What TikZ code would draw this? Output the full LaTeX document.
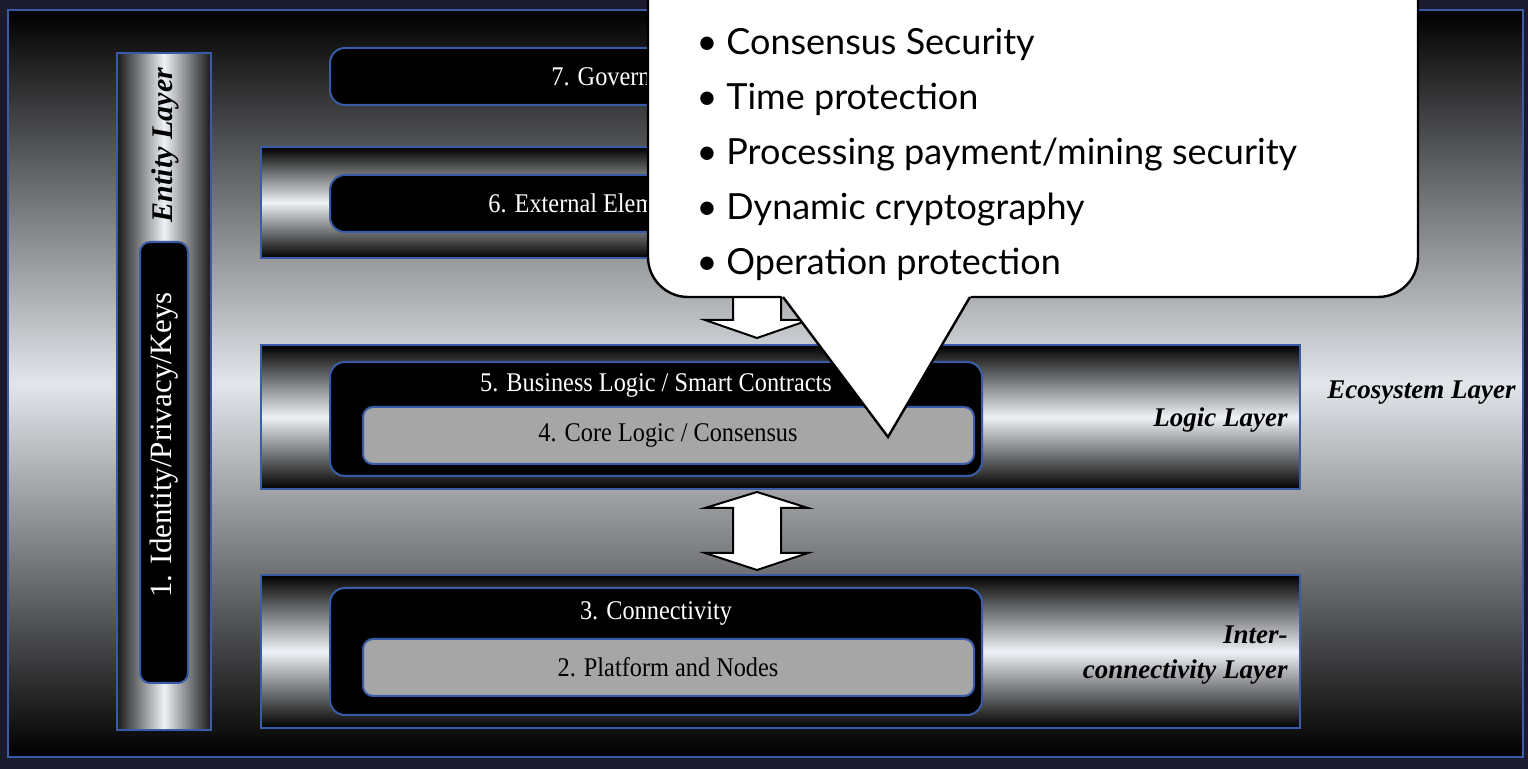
\documentclass[tikz,border=0pt]{standalone}
\usepackage{fontspec}
\setmainfont{Liberation Serif}
\newfontfamily\lblfont[FakeStretch=0.9]{Liberation Serif}
\newfontfamily\callfont{Lato}
\usetikzlibrary{fit,calc}
\definecolor{navy}{HTML}{1C1B2D}
\definecolor{edgeblue}{HTML}{3A5CA8}
\definecolor{boxgray}{HTML}{A6A6A6}
\definecolor{shine}{HTML}{EEF1F5}
\definecolor{framemid}{HTML}{E2E5EA}
\tikzset{
  layerbar/.style={draw=edgeblue, line width=1pt, inner sep=0pt,
    top color=black, bottom color=black, middle color=shine},
  colbar/.style={draw=edgeblue, line width=1pt, inner sep=0pt,
    left color=black!90, right color=black!90, middle color=shine},
  blackbox/.style={draw=edgeblue, line width=1pt, inner sep=0pt, fill=black, rounded corners=7.5pt},
  graybox/.style={draw=edgeblue, line width=1pt, inner sep=0pt, fill=boxgray, rounded corners=5pt},
  whitelbl/.style={text=white, font=\lblfont\fontsize{13.5}{16}\selectfont, inner sep=0pt},
  darklbl/.style={text=black, font=\lblfont\fontsize{13.5}{16}\selectfont, inner sep=0pt},
  layername/.style={text=black, font=\bfseries\itshape\fontsize{13.5}{17.5}\selectfont, inner sep=0pt},
  blockarrow/.style={draw=black, line width=1pt, fill=white, line join=miter},
  calltext/.style={text=black, font=\callfont\fontsize{18}{22}\selectfont, inner sep=0pt},
}
\begin{document}
\begin{tikzpicture}[x=0.5pt,y=-0.5pt]
\clip (0,0) rectangle (1528,769);
\fill[navy] (0,0) rectangle (1528,769);
% frame
\node[draw=edgeblue, line width=1pt, inner sep=0pt, top color=black, bottom color=black, middle color=framemid,
  fit={(8,10) (1523,757)}] (frame) {};

% entity column
\node[colbar, fit={(117,53) (211,730)}] (entity) {};
\node[layername, rotate=90, font=\bfseries\itshape\fontsize{15}{18}\selectfont] (entitylbl) at (165,145) {Entity Layer};
\node[blackbox, rounded corners=5pt, fit={(140,242) (188,683)}] (identity) {};
\node[text=white, font=\fontsize{15.5}{18}\selectfont, inner sep=0pt, rotate=90] (identitylbl) at (164,445) {1. Identity/Privacy/Keys};

% layer 7
\node[blackbox, fit={(330,48) (1000,105)}] (gov) {};
\node[whitelbl, anchor=west] (govlbl) at (551,77) {7. Governance};

% layer 6
\node[layerbar, fit={(261,147) (1300,258)}] (extbar) {};
\node[blackbox, fit={(330,175) (982,232)}] (ext) {};
\node[whitelbl, anchor=west] (extlbl) at (488,203) {6. External Elements};

% logic layer
\node[layerbar, fit={(261,345) (1300,489)}] (logic) {};
\node[blackbox, fit={(330,362) (982,476)}] (business) {};
\node[whitelbl] (businesslbl) at (656,385) {5. Business Logic / Smart Contracts};
\node[graybox, fit={(363,407) (974,464)}] (core) {};
\node[darklbl] (corelbl) at (668,435) {4. Core Logic / Consensus};
\node[layername, anchor=east] (logiclbl) at (1288,420) {Logic Layer};

% interconnectivity layer
\node[layerbar, fit={(261,575) (1300,728)}] (inter) {};
\node[blackbox, fit={(330,588) (982,715)}] (conn) {};
\node[whitelbl] (connlbl) at (656,613) {3. Connectivity};
\node[graybox, fit={(363,639) (974,696)}] (platform) {};
\node[darklbl] (platformlbl) at (668,667) {2. Platform and Nodes};
\node[layername, anchor=east, align=right] (interlbl) at (1288,655) {Inter-\\connectivity Layer};

% ecosystem
\node[layername, anchor=west] (ecolbl) at (1327,393) {Ecosystem Layer};

% double arrow between logic and interconnectivity
\draw[blockarrow] (757,492) -- (808,508) -- (781,508) -- (781,553) -- (808,553) -- (757,570)
  -- (705,553) -- (733,553) -- (733,508) -- (705,508) -- cycle;
% down arrow between layer 6 and logic
\draw[blockarrow] (733,250) -- (781,250) -- (781,320) -- (809,320) -- (757,338) -- (705,320) -- (733,320) -- cycle;

% callout
\draw[line width=1.2pt, fill=white, rounded corners=20pt] (648,-40) rectangle (1418,297);
\fill[white] (780,294) -- (888,437) -- (972,294) -- cycle;
\draw[line width=1.2pt, line join=miter] (783,297) -- (888,437) -- (970,297);
\node[calltext, anchor=base] (d1) at (707,55) {•};
\node[calltext, anchor=base west] (t1) at (726,55) {Consensus Security};
\node[calltext, anchor=base] (d2) at (707,110) {•};
\node[calltext, anchor=base west] (t2) at (726,110) {Time protection};
\node[calltext, anchor=base] (d3) at (707,165) {•};
\node[calltext, anchor=base west] (t3) at (726,165) {Processing payment/mining security};
\node[calltext, anchor=base] (d4) at (707,220) {•};
\node[calltext, anchor=base west] (t4) at (726,220) {Dynamic cryptography};
\node[calltext, anchor=base] (d5) at (707,275) {•};
\node[calltext, anchor=base west] (t5) at (726,275) {Operation protection};
\end{tikzpicture}
\end{document}
